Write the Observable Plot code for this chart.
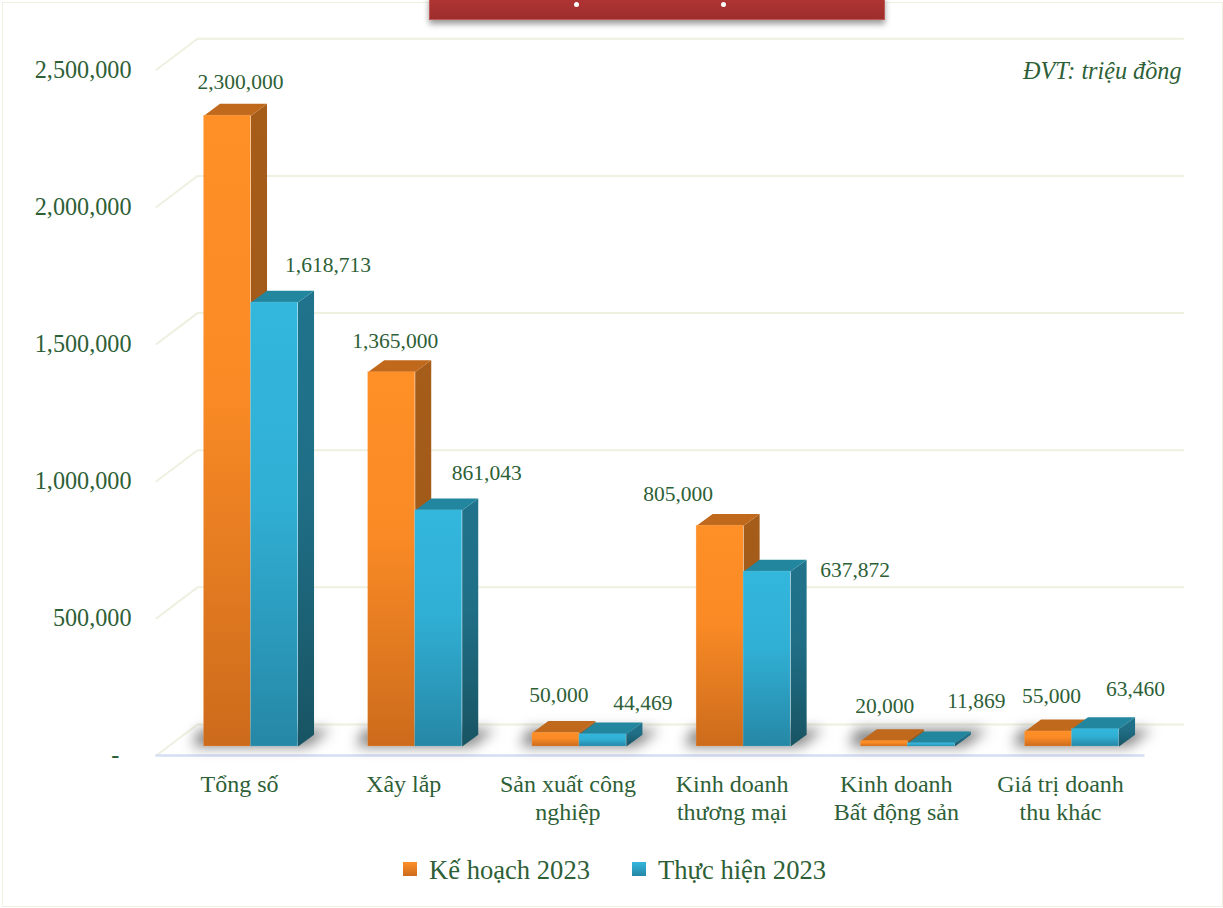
<!DOCTYPE html>
<html lang="vi">
<head>
<meta charset="utf-8">
<title>Kế hoạch và thực hiện 2023</title>
<script src="https://cdn.jsdelivr.net/npm/d3@7"></script>
<script src="https://cdn.jsdelivr.net/npm/@observablehq/plot@0.6"></script>
<style>
  html, body { margin: 0; padding: 0; background: #fff; overflow: hidden; }
  #page { position: relative; width: 1223px; height: 908px; font-family: "Liberation Serif", serif; color: #2e5f37; }
  #edge { position: absolute; left: 2px; top: 2px; width: 1219px; height: 903px; border: 1.5px solid #eef0e2; pointer-events: none; }
  #banner { position: absolute; left: 429px; top: -4px; width: 456px; height: 24px; box-sizing: border-box;
    background: linear-gradient(#b23535, #9c2d2c); border: 1px solid #bd5856; box-shadow: 0 4px 6px rgba(0,0,0,.4); }
  .dot { position: absolute; top: 5px; width: 5px; height: 5px; border-radius: 50%; background: #fff; }
  #legend { position: absolute; left: 0; top: 850px; width: 100%; height: 40px; font-size: 26.6px; }
  .sw { position: absolute; top: 12px; width: 14px; height: 14px; }
  .lb { position: absolute; top: 4px; line-height: 32px; white-space: nowrap; }
  svg { display: block; }
</style>
</head>
<body>
<div id="page">
  <div id="chart"></div>
  <div id="edge"></div>
  <div id="banner"><span class="dot" style="left:144px"></span><span class="dot" style="left:291px"></span></div>
  <div id="legend"></div>
</div>
<script>
// ---- Data ----
const categories = ["Tổng số", "Xây lắp", "Sản xuất công\nnghiệp", "Kinh doanh\nthương mại", "Kinh doanh\nBất động sản", "Giá trị doanh\nthu khác"];
const plan2023 = [2300000, 1365000, 50000, 805000, 20000, 55000];
const actual2023 = [1618713, 861043, 44469, 637872, 11869, 63460];
const seriesNames = ["Kế hoạch 2023", "Thực hiện 2023"];
const yTicks = [0, 500000, 1000000, 1500000, 2000000, 2500000];
const unitNote = "ĐVT: triệu đồng";

// ---- Layout (separate from the data) ----
const textColor = "#2e5f37";
const barW = 0.2863, depthX = 0.0976, depthY = 43000;   // bar width and 3D depth, in scale units
const floorLift = 32800, wallX = 0.25, wallY = 113000;  // floor and back wall, in scale units
const leftX = -0.576, rightX = 5.679, floorRightX = 5.435;
// label nudges in pixels from the top of each bar: plan, then actual
const planNudge = [[13,-34],[3.5,-31.5],[3,-38],[-42,-32],[0.5,-35],[3,-35]];
const actualNudge = [[53.5,-37],[48,-37],[40,-31],[88,-1],[45,-42],[40,-40]];

const rows = categories.flatMap((c, i) => [
  {i, s: 0, v: plan2023[i], x1: i - barW, x2: i, nudge: planNudge[i]},
  {i, s: 1, v: actual2023[i], x1: i, x2: i + barW, nudge: actualNudge[i]}
]);
const barTop = d => d.v + floorLift;
const poly = (d, pts) => pts.map(([x, y]) => ({id: d.i + "-" + d.s, x, y}));
const side = d => poly(d, [[d.x2, floorLift],[d.x2 + depthX, floorLift + depthY],[d.x2 + depthX, barTop(d) + depthY],[d.x2, barTop(d)]]);
const lid = d => poly(d, [[d.x1, barTop(d)],[d.x1 + depthX, barTop(d) + depthY],[d.x2 + depthX, barTop(d) + depthY],[d.x2, barTop(d)]]);
const ofSeries = s => rows.filter(d => d.s === s);

const shadows = categories.flatMap((c, i) => poly({i, s: "sh"}, [
  [i - barW - 0.07, floorLift], [i + barW + 0.06, floorLift],
  [i + barW + 0.2, floorLift + 62000], [i - barW - 0.03, floorLift + 62000]
]));
const walls = yTicks.flatMap(v => [
  {id: v, x: leftX, y: v}, {id: v, x: leftX + wallX, y: v + wallY}, {id: v, x: rightX, y: v + wallY}
]);

function gradient(defs, id, c0, cm, c1) {
  const g = defs.append("linearGradient").attr("id", id).attr("x1", 0).attr("x2", 0).attr("y1", 0).attr("y2", 1);
  g.append("stop").attr("offset", "0%").attr("stop-color", c0);
  g.append("stop").attr("offset", "45%").attr("stop-color", cm);
  g.append("stop").attr("offset", "100%").attr("stop-color", c1);
}
const defsMark = () => {
  const defs = d3.create("svg:defs");
  gradient(defs, "f0", "#ff9027", "#f98a25", "#cc6b1c");
  gradient(defs, "f1", "#33b7dd", "#30afd4", "#2687a6");
  gradient(defs, "s0", "#a65d1a", "#a25a19", "#8e4f17");
  gradient(defs, "s1", "#20738c", "#1f6e86", "#185463");
  return defs.node();
};
const topFill = ["#c0691c", "#23869f"];
const rim = ["#ffb47a", "#7fd0e8"];

const barMarks = [0, 1].flatMap(s => [
  Plot.line(ofSeries(s).flatMap(side), {x: "x", y: "y", z: "id", fill: `url(#s${s})`, stroke: "none"}),
  Plot.line(ofSeries(s).flatMap(lid), {x: "x", y: "y", z: "id", fill: topFill[s], stroke: "none"}),
  Plot.rect(ofSeries(s), {x1: "x1", x2: "x2", y1: () => floorLift, y2: barTop, fill: `url(#f${s})`, stroke: rim[s], strokeWidth: 0.6, strokeOpacity: 0.35})
]);
const labelMarks = rows.map(d => Plot.text([d], {
  x: r => (r.x1 + r.x2) / 2, y: barTop, text: r => d3.format(",")(r.v),
  dx: d.nudge[0], dy: d.nudge[1], fontSize: 21.5, fill: textColor
}));

const plotNode = Plot.plot({
  width: 1223, height: 850,
  marginLeft: 131, marginRight: 42, marginTop: 60, marginBottom: 85,
  x: {domain: [-0.5, 5.5], range: [168.4, 1153.6]},
  y: {domain: [0, 2500000], range: [755, 69.3]},
  style: {fontFamily: '"Liberation Serif", serif', color: textColor, background: "transparent", overflow: "visible"},
  marks: [
    defsMark,
    Plot.line(walls, {x: "x", y: "y", z: "id", stroke: "#eef0e0", strokeWidth: 2, curve: "linear"}),
    Plot.line([{x: leftX, y: 0}, {x: floorRightX, y: 0}], {x: "x", y: "y", stroke: "#d5def4", strokeWidth: 2.5}),
    Plot.line(shadows, {x: "x", y: "y", z: "id", fill: "#333333", stroke: "none", fillOpacity: 0.62, imageFilter: "blur(6.5px)"}),
    ...barMarks,
    ...labelMarks,
    Plot.axisY({anchor: "left", ticks: yTicks, tickSize: 0, tickPadding: 0, label: null, fontSize: 24.2,
      tickFormat: v => v === 0 ? "-\u2007" : d3.format(",")(v)}),
    Plot.axisX({anchor: "bottom", ticks: d3.range(categories.length), tickSize: 0, tickPadding: 6.5, label: null, fontSize: 24,
      dx: -11.5, lineHeight: 1.17, tickFormat: i => categories[i]}),
    Plot.text([unitNote], {text: d => d, frameAnchor: "top-right", dy: 1, fontSize: 24.2, fontStyle: "italic", fill: textColor})
  ]
});
document.getElementById("chart").append(plotNode);

// ---- Legend (HTML, under the SVG) ----
const legendBox = d3.select("#legend");
const swatchBg = ["linear-gradient(#ff9027,#cc6b1c)", "linear-gradient(#33b7dd,#2687a6)"];
const swatchLeft = [403, 632], labelLeft = [429, 658];
seriesNames.forEach((name, k) => {
  legendBox.append("span").attr("class", "sw").style("left", swatchLeft[k] + "px").style("background", swatchBg[k]);
  legendBox.append("span").attr("class", "lb").style("left", labelLeft[k] + "px").text(name);
});
</script>
</body>
</html>
